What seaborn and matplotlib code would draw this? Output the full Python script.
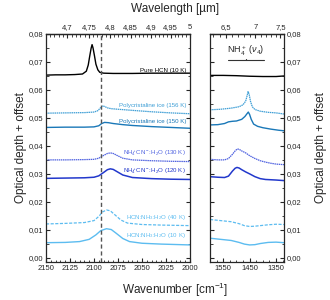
import seaborn as sns
import numpy as np
import matplotlib.pyplot as plt
from matplotlib.ticker import MultipleLocator, FixedLocator, FuncFormatter

# --- left panel (CN stretch region), wavenumber in cm-1 ---
hcn_x = [2150, 2140, 2130, 2120, 2112, 2108, 2106, 2104.5, 2103, 2102, 2101, 2099.5, 2098, 2096, 2094, 2090, 2080, 2060, 2040, 2020, 2000]
hcn_y = [0.0653, 0.0654, 0.0654, 0.0655, 0.0657, 0.0667, 0.0689, 0.0720, 0.0749, 0.0762, 0.0750, 0.0722, 0.0692, 0.0672, 0.0663, 0.0660, 0.0659, 0.0659, 0.0660, 0.0660, 0.0660]

p156_x = [2150, 2130, 2110, 2100, 2096, 2093, 2091, 2089, 2086, 2082, 2075, 2060, 2040, 2020, 2000]
p156_y = [0.0517, 0.0518, 0.0519, 0.0521, 0.0526, 0.0537, 0.0543, 0.0541, 0.0536, 0.0533, 0.0531, 0.0527, 0.0522, 0.0518, 0.0515]

p150_x = [2150, 2130, 2110, 2100, 2095, 2092, 2089, 2085, 2080, 2070, 2060, 2040, 2020, 2000]
p150_y = [0.0466, 0.0467, 0.0467, 0.0468, 0.0472, 0.0480, 0.0484, 0.0483, 0.0480, 0.0476, 0.0473, 0.0469, 0.0466, 0.0463]

n130_x = [2150, 2130, 2110, 2100, 2095, 2090, 2086, 2083, 2080, 2076, 2070, 2060, 2040, 2020, 2000]
n130_y = [0.0350, 0.0350, 0.0351, 0.0352, 0.0356, 0.0366, 0.0373, 0.0375, 0.0373, 0.0366, 0.0356, 0.0350, 0.0347, 0.0345, 0.0344]

n120_x = [2150, 2130, 2110, 2100, 2095, 2090, 2086, 2083, 2080, 2076, 2070, 2060, 2040, 2020, 2000]
n120_y = [0.0284, 0.0285, 0.0286, 0.0288, 0.0293, 0.0305, 0.0315, 0.0318, 0.0316, 0.0308, 0.0296, 0.0287, 0.0283, 0.0281, 0.0280]

m40_x = [2150, 2130, 2110, 2100, 2095, 2091, 2087, 2083, 2078, 2072, 2065, 2050, 2030, 2000]
m40_y = [0.0121, 0.0123, 0.0126, 0.0133, 0.0148, 0.0164, 0.0171, 0.0168, 0.0153, 0.0135, 0.0124, 0.0119, 0.0117, 0.0115]

m10_x = [2150, 2130, 2115, 2105, 2098, 2093, 2087, 2082, 2077, 2070, 2063, 2050, 2030, 2000]
m10_y = [0.0054, 0.0055, 0.0058, 0.0066, 0.0082, 0.0097, 0.0104, 0.0101, 0.0088, 0.0069, 0.0058, 0.0052, 0.0049, 0.0046]

# --- right panel (NH4+ nu4 region) ---
r_hcn_x = [1600, 1550, 1500, 1450, 1400, 1350, 1320]
r_hcn_y = [0.0652, 0.0652, 0.0651, 0.0649, 0.0648, 0.0648, 0.0650]

r156_x = [1600, 1560, 1520, 1490, 1475, 1465, 1460, 1456, 1452, 1447, 1440, 1430, 1410, 1380, 1350, 1320]
r156_y = [0.0529, 0.0531, 0.0535, 0.0540, 0.0547, 0.0560, 0.0578, 0.0594, 0.0585, 0.0560, 0.0540, 0.0530, 0.0524, 0.0520, 0.0518, 0.0514]

r150_x = [1600, 1570, 1545, 1530, 1515, 1500, 1480, 1468, 1460, 1455, 1450, 1444, 1435, 1420, 1400, 1370, 1340, 1320]
r150_y = [0.0475, 0.0476, 0.0480, 0.0486, 0.0488, 0.0489, 0.0495, 0.0505, 0.0515, 0.0521, 0.0512, 0.0495, 0.0478, 0.0470, 0.0465, 0.0460, 0.0456, 0.0454]

r130_x = [1600, 1570, 1545, 1530, 1515, 1505, 1497, 1490, 1480, 1465, 1450, 1430, 1410, 1390, 1370, 1350, 1320]
r130_y = [0.0352, 0.0350, 0.0350, 0.0355, 0.0370, 0.0382, 0.0389, 0.0388, 0.0382, 0.0375, 0.0365, 0.0355, 0.0347, 0.0342, 0.0338, 0.0335, 0.0333]

r120_x = [1600, 1570, 1545, 1530, 1515, 1505, 1498, 1490, 1480, 1465, 1450, 1430, 1410, 1390, 1370, 1350, 1320]
r120_y = [0.0290, 0.0288, 0.0287, 0.0292, 0.0310, 0.0320, 0.0323, 0.0321, 0.0315, 0.0307, 0.0300, 0.0290, 0.0283, 0.0280, 0.0279, 0.0278, 0.0276]

r40_x = [1600, 1560, 1520, 1490, 1470, 1450, 1430, 1410, 1380, 1350, 1320]
r40_y = [0.0137, 0.0133, 0.0129, 0.0122, 0.0115, 0.0112, 0.0113, 0.0115, 0.0118, 0.0120, 0.0119]

r10_x = [1600, 1560, 1520, 1490, 1470, 1450, 1430, 1410, 1380, 1350, 1320]
r10_y = [0.0070, 0.0066, 0.0062, 0.0055, 0.0049, 0.0046, 0.0047, 0.0051, 0.0055, 0.0056, 0.0054]

labels = ["Pure HCN (10 K)", "Polycristaline ice (156 K)", "Polycristaline ice (150 K)",
          r"NH$_4^+$CN$^-$:H$_2$O (130 K)", r"NH$_4^+$CN$^-$:H$_2$O (120 K)",
          r"HCN:NH$_3$:H$_2$O (40 K)", r"HCN:NH$_3$:H$_2$O (10 K)"]
label_y = [0.0671, 0.0546, 0.0487, 0.0375, 0.0308, 0.0143, 0.0079]
colors = ["black", "#3f9fd6", "#1a78b8", "#4f62e0", "#2238cc", "#5cbcf0", "#5cbcf0"]
styles = ["-", (0, (1.2, 0.5)), "-", (0, (1.2, 0.5)), "-", (0, (2.5, 1.2)), "-"]
widths = [1.0, 0.9, 1.0, 0.9, 1.1, 0.9, 1.0]

left = [(hcn_x, hcn_y), (p156_x, p156_y), (p150_x, p150_y), (n130_x, n130_y),
        (n120_x, n120_y), (m40_x, m40_y), (m10_x, m10_y)]
right = [(r_hcn_x, r_hcn_y), (r156_x, r156_y), (r150_x, r150_y), (r130_x, r130_y),
         (r120_x, r120_y), (r40_x, r40_y), (r10_x, r10_y)]

sns.set_theme(style="ticks")
plt.rcParams['font.family'] = ['Liberation Sans', 'DejaVu Sans']
plt.rcParams['mathtext.fontset'] = 'custom'
plt.rcParams['mathtext.rm'] = 'Liberation Sans'
plt.rcParams['mathtext.it'] = 'Liberation Sans:italic'

fig = plt.figure(figsize=(3.3, 3.0), dpi=100)
ax1 = fig.add_axes([46 / 330, 1 - 262 / 300, 144 / 330, 228 / 300])
ax2 = fig.add_axes([210 / 330, 1 - 262 / 300, 74 / 330, 228 / 300])

comma = FuncFormatter(lambda v, p: ("%.2f" % v).replace(".", ","))
comma_g = FuncFormatter(lambda v, p: ("%g" % round(v, 3)).replace(".", ","))

for i in range(len(left)):
    sns.lineplot(x=left[i][0], y=left[i][1], ax=ax1, color=colors[i], linestyle=styles[i],
                 linewidth=widths[i], sort=False, estimator=None)
    sns.lineplot(x=right[i][0], y=right[i][1], ax=ax2, color=colors[i], linestyle=styles[i],
                 linewidth=widths[i], sort=False, estimator=None)
    ax1.text(2004, label_y[i], labels[i], color=colors[i], fontsize=4.4, ha="right", va="center")

ax1.axvline(2093, color="#555555", linestyle=(0, (3, 2)), linewidth=1.0)

ax2.plot([1531, 1396], [0.0707, 0.0707], color="#333333", linewidth=0.8)
ax2.plot([1464, 1464], [0.0707, 0.0712], color="#333333", linewidth=0.8)
ax2.text(1464, 0.0738, r"NH$_4^+$ ($\nu_4$)", fontsize=6.5, ha="center", va="center")

for ax in (ax1, ax2):
    ax.set_ylim(-0.0015, 0.08)
    ax.yaxis.set_major_locator(MultipleLocator(0.01))
    ax.yaxis.set_minor_locator(MultipleLocator(0.005))
    ax.yaxis.set_major_formatter(comma)
    ax.tick_params(which="both", direction="in", top=False, right=True, labelsize=5.5, pad=2)
    ax.tick_params(which="major", length=3, width=0.8)
    ax.tick_params(which="minor", length=1.8, width=0.6)
    for s in ax.spines.values():
        s.set_linewidth(0.9)
    ax.set_xlabel("")
    ax.set_ylabel("")

ax1.set_xlim(2150, 2000)
ax1.xaxis.set_major_locator(MultipleLocator(25))
ax1.xaxis.set_minor_locator(MultipleLocator(5))
ax1.set_ylabel("Optical depth + offset", fontsize=8.5, labelpad=1)

ax2.set_xlim(1600, 1320)
ax2.xaxis.set_major_locator(FixedLocator([1550, 1450, 1350]))
ax2.xaxis.set_minor_locator(MultipleLocator(25))
ax2.yaxis.tick_right()
ax2.tick_params(which="both", left=True, labelleft=False, labelright=True)
ax2.yaxis.set_label_position("right")
ax2.set_ylabel("Optical depth + offset", fontsize=8.5, labelpad=10, rotation=90)

top1 = ax1.secondary_xaxis("top", functions=(lambda x: 1e4 / np.asarray(x, float), lambda x: 1e4 / np.asarray(x, float)))
top1.xaxis.set_major_locator(FixedLocator([4.7, 4.75, 4.8, 4.85, 4.9, 4.95, 5.0]))
top1.xaxis.set_minor_locator(FixedLocator(list(np.arange(4.66, 5.0, 0.01))))
top2 = ax2.secondary_xaxis("top", functions=(lambda x: 1e4 / np.asarray(x, float), lambda x: 1e4 / np.asarray(x, float)))
top2.xaxis.set_major_locator(FixedLocator([6.5, 7.0, 7.5]))
top2.xaxis.set_minor_locator(FixedLocator(list(np.arange(6.3, 7.6, 0.1))))
for t in (top1, top2):
    t.xaxis.set_major_formatter(comma_g)
    t.tick_params(which="both", direction="in", labelsize=5.5, pad=2)
    t.tick_params(which="major", length=3, width=0.8)
    t.tick_params(which="minor", length=1.8, width=0.6)
    t.spines["top"].set_linewidth(0.9)

fig.text(175 / 330, 1 - 9 / 300, "Wavelength [µm]", fontsize=8.5, ha="center", va="center")
fig.text(175 / 330, 1 - 290 / 300, r"Wavenumber [cm$^{-1}$]", fontsize=8.5, ha="center", va="center")

fig.savefig("out.png", dpi=100)
